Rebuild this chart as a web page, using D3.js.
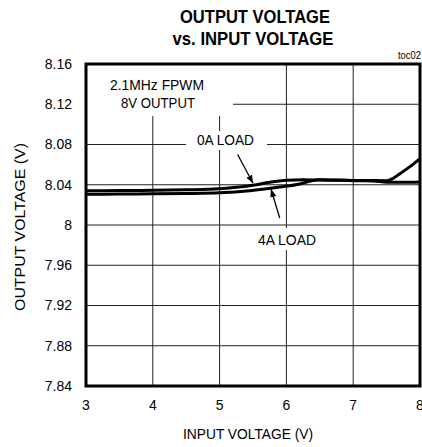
<!DOCTYPE html>
<html>
<head>
<meta charset="utf-8">
<script src="https://cdn.jsdelivr.net/npm/d3@7"></script>
<style>
  body { margin: 0; background: #fff; }
  svg { display: block; font-family: "Liberation Sans Narrow", "Liberation Sans", Arial, sans-serif; }
</style>
</head>
<body>
<svg id="chart" width="422" height="447"></svg>
<script>
// values
var xTicks = [3, 4, 5, 6, 7, 8]
var yTicks = [7.84, 7.88, 7.92, 7.96, 8, 8.04, 8.08, 8.12, 8.16]
var vin0A = [3, 3.5, 4, 4.5, 5, 5.25, 5.5, 5.75, 6, 6.25, 6.5, 6.75, 7, 7.25, 7.5, 7.6, 7.7, 7.85, 8]
var vout0A = [8.034, 8.0342, 8.0345, 8.035, 8.036, 8.0375, 8.0395, 8.0425, 8.0445, 8.045, 8.0447, 8.0445, 8.0443, 8.0442, 8.044, 8.0465, 8.051, 8.058, 8.066]
var vin4A = [3, 3.5, 4, 4.5, 5, 5.45, 5.9, 6.2, 6.35, 6.5, 6.75, 7, 7.3, 7.5, 7.75, 8]
var vout4A = [8.0305, 8.0307, 8.031, 8.0313, 8.032, 8.034, 8.0377, 8.0407, 8.0435, 8.045, 8.0447, 8.044, 8.0438, 8.0426, 8.0425, 8.0428]

var svg = d3.select('#chart'),
  margin = {top: 64, right: 2, bottom: 61, left: 86},
  width = +svg.attr('width') - margin.left - margin.right,
  height = +svg.attr('height') - margin.top - margin.bottom,
  g = svg.append('g').attr('transform', 'translate(' + margin.left + ',' + margin.top + ')')

var x = d3.scaleLinear().domain([3, 8]).range([0, width])
var y = d3.scaleLinear().domain([7.84, 8.16]).range([height, 0])

// grid
g.append('g')
  .selectAll('line')
  .data(xTicks)
  .enter()
  .append('line')
  .attr('x1', d => x(d)).attr('x2', d => x(d))
  .attr('y1', 0).attr('y2', height)
  .attr('stroke', '#222').attr('stroke-width', 1)
g.append('g')
  .selectAll('line')
  .data(yTicks)
  .enter()
  .append('line')
  .attr('y1', d => y(d)).attr('y2', d => y(d))
  .attr('x1', 0).attr('x2', width)
  .attr('stroke', '#222').attr('stroke-width', 1)

// white boxes behind the notes
g.append('rect').attr('x', 0).attr('y', 0).attr('width', 147).attr('height', 52).attr('fill', '#fff')
g.append('rect').attr('x', 100).attr('y', 67).attr('width', 81).attr('height', 19).attr('fill', '#fff')
g.append('rect').attr('x', 169).attr('y', 164).attr('width', 65).attr('height', 22).attr('fill', '#fff')

// frame
g.append('rect')
  .attr('width', width).attr('height', height)
  .attr('fill', 'none').attr('stroke', '#000').attr('stroke-width', 3)

// curves
var line = d3.line()
  .x(d => x(d[0]))
  .y(d => y(d[1]))
  .curve(d3.curveMonotoneX)
g.append('path')
  .datum(d3.zip(vin4A, vout4A))
  .attr('d', line)
  .attr('fill', 'none').attr('stroke', '#000').attr('stroke-width', 3)
g.append('path')
  .datum(d3.zip(vin0A, vout0A))
  .attr('d', line)
  .attr('fill', 'none').attr('stroke', '#000').attr('stroke-width', 3)

// arrows
svg.append('defs').append('marker')
  .attr('id', 'arr').attr('viewBox', '0 0 10 10')
  .attr('refX', 10).attr('refY', 5)
  .attr('markerWidth', 8).attr('markerHeight', 8)
  .attr('markerUnits', 'userSpaceOnUse')
  .attr('orient', 'auto')
  .append('path').attr('d', 'M0,1L10,5L0,9Z').attr('fill', '#000')
g.append('line')
  .attr('x1', x(5.27)).attr('y1', y(8.07))
  .attr('x2', x(5.5)).attr('y2', y(8.0415))
  .attr('stroke', '#000').attr('stroke-width', 1.3).attr('marker-end', 'url(#arr)')
g.append('line')
  .attr('x1', x(5.9)).attr('y1', y(8.007))
  .attr('x2', x(5.77)).attr('y2', y(8.0355))
  .attr('stroke', '#000').attr('stroke-width', 1.3).attr('marker-end', 'url(#arr)')

// tick labels
g.append('g')
  .selectAll('text')
  .data(yTicks)
  .enter()
  .append('text')
  .attr('x', -14).attr('y', d => y(d)).attr('dy', '0.35em')
  .attr('text-anchor', 'end').attr('font-size', 14)
  .text(d => +d.toFixed(2))
g.append('g')
  .selectAll('text')
  .data(xTicks)
  .enter()
  .append('text')
  .attr('x', d => x(d)).attr('y', height + 24)
  .attr('text-anchor', 'middle').attr('font-size', 14)
  .text(d => d)

// notes, squeezed to the narrow face of the original
function narrow(sel, len) {
  return sel.attr('textLength', len).attr('lengthAdjust', 'spacingAndGlyphs')
}
var note = g.append('g').attr('font-size', 14).attr('text-anchor', 'middle')
narrow(note.append('text').attr('x', 71).attr('y', 26).text('2.1MHz FPWM'), 94)
narrow(note.append('text').attr('x', 72).attr('y', 44).text('8V OUTPUT'), 74)
narrow(note.append('text').attr('x', 139.5).attr('y', 81).text('0A LOAD'), 57)
narrow(note.append('text').attr('x', 201).attr('y', 181).text('4A LOAD'), 58)

// titles
narrow(svg.append('text').attr('x', 255).attr('y', 23)
  .attr('text-anchor', 'middle').attr('font-size', 18).attr('font-weight', 'bold')
  .text('OUTPUT VOLTAGE'), 150)
narrow(svg.append('text').attr('x', 253).attr('y', 45)
  .attr('text-anchor', 'middle').attr('font-size', 18).attr('font-weight', 'bold')
  .text('vs. INPUT VOLTAGE'), 161)
narrow(svg.append('text').attr('x', 421).attr('y', 59)
  .attr('text-anchor', 'end').attr('font-size', 10)
  .text('toc02'), 23)
narrow(svg.append('text').attr('x', 248).attr('y', 439)
  .attr('text-anchor', 'middle').attr('font-size', 14)
  .text('INPUT VOLTAGE (V)'), 130)
narrow(svg.append('text')
  .attr('transform', 'translate(25,227) rotate(-90)')
  .attr('text-anchor', 'middle').attr('font-size', 14)
  .text('OUTPUT VOLTAGE (V)'), 168)
</script>
</body>
</html>
